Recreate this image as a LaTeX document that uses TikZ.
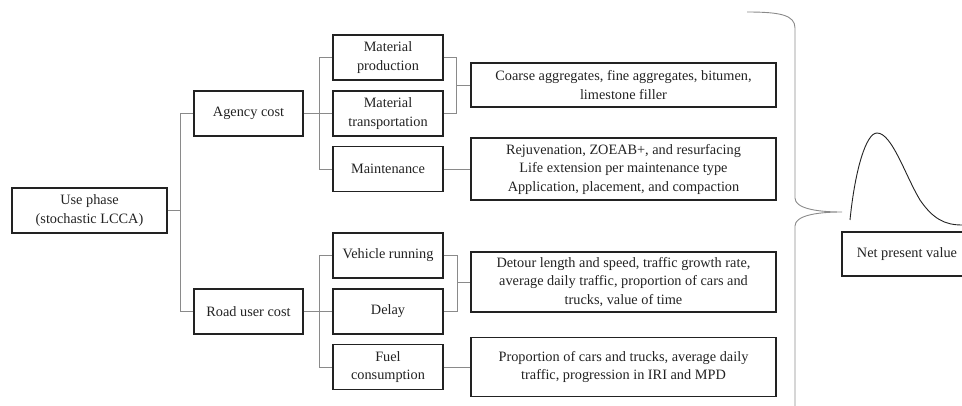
\documentclass[tikz,border=0pt]{standalone}
\usepackage{fontspec}
\setmainfont{Liberation Serif}
\usetikzlibrary{calc}
\definecolor{BoxInk}{HTML}{222222}
\definecolor{LinkGray}{HTML}{8A8A8A}

\begin{document}
\begin{tikzpicture}[x=1pt,y=-1pt,
    box/.style={draw=BoxInk,line width=1.2pt,align=center,inner sep=2pt,text=BoxInk,
      font=\fontsize{14.3}{18.5}\selectfont},
    costbox/.style={box,minimum width=110pt,minimum height=45pt},
    infobox/.style={box,minimum width=305pt},
    link/.style={draw=LinkGray,line width=0.9pt}]
      \clip (0,0) rectangle (962,406);
      \node[box,minimum width=155pt,minimum height=45pt] (use) at (89.5,210.5) {Use phase\\(stochastic LCCA)};
      \node[costbox,minimum width=109pt] (agency) at (248.5,113.5) {Agency cost};
      \node[costbox,minimum width=109pt] (road) at (248.5,311.5) {Road user cost};
      \foreach \nm/\y/\txt in {mprod/57.5/{Material\\production},mtrans/113.5/{Material\\transportation},
        maint/169/Maintenance,vrun/255.5/Vehicle running,delay/311.5/Delay,fuel/367/{Fuel\\consumption}}
      \node[costbox] (\nm) at (388,\y) {\txt};
      \node[infobox,minimum height=44pt] (coarse) at (623.5,85) {Coarse aggregates, fine aggregates, bitumen,\\limestone filler};
      \node[infobox,minimum height=62pt] (rejuv) at (623.5,169) {Rejuvenation, ZOEAB+, and resurfacing\\Life extension per maintenance type\\Application, placement, and compaction};
      \node[infobox,minimum height=60pt] (detour) at (623.5,282) {Detour length and speed, traffic growth rate,\\average daily traffic, proportion of cars and\\trucks, value of time};
      \node[infobox,minimum height=59pt] (propn) at (623.5,367) {Proportion of cars and trucks, average daily\\traffic, progression in IRI and MPD};
      \node[box,minimum width=130pt,minimum height=44pt] (npv) at (907,254) {Net present value};
      % tree connectors
      \draw[link] (use.east) -- ++(13,0) coordinate (t0) |- (agency.west);
      \draw[link] (t0) |- (road.west);
      \draw[link] (agency.east) -- ++(16,0) coordinate (t1) |- (mprod.west);
      \draw[link] (t1) |- (mtrans.west);
      \draw[link] (t1) |- (maint.west);
      \draw[link] (road.east) -- ++(16,0) coordinate (t2) |- (vrun.west);
      \draw[link] (t2) |- (delay.west);
      \draw[link] (t2) |- (fuel.west);
      \draw[link] (mprod.east) -- ++(13,0) coordinate (b1) |- (mtrans.east);
      \draw[link] (b1 |- coarse.west) -- (coarse.west);
      \draw[link] (maint.east) -- (rejuv.west);
      \draw[link] (vrun.east) -- ++(14,0) coordinate (b2) |- (delay.east);
      \draw[link] (b2 |- detour.west) -- (detour.west);
      \draw[link] (fuel.east) -- (propn.west);
      % brace and distribution
      \draw[link] (747,12) .. controls (780,12) and (795,15) .. (795,28) -- (795,198)
        .. controls (795,208) and (815,212) .. (842,212)
        .. controls (815,212) and (795,216) .. (795,226) -- (795,420);
      \draw[BoxInk,line width=0.9pt] (850,220) .. controls (855,170) and (866,133) .. (877,133)
        .. controls (892,133) and (905,175) .. (920,200) .. controls (933,219) and (945,225) .. (962,225);
    \end{tikzpicture}
\end{document}
